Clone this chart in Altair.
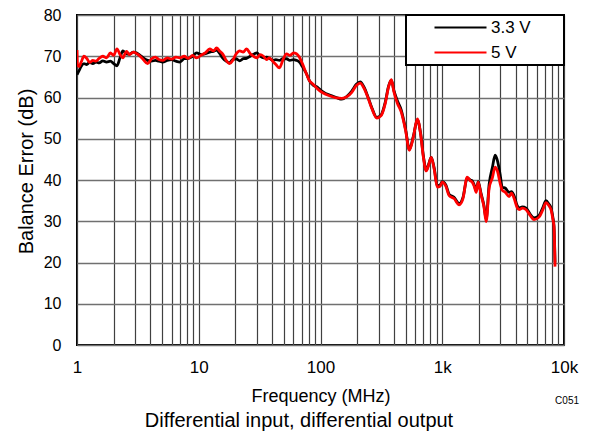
import altair as alt
import pandas as pd

# Frequency (MHz)
freq = [
    1, 1.01, 1.04, 1.08, 1.14, 1.2, 1.27, 1.35, 1.43, 1.52,
    1.63, 1.75, 1.88, 2.0, 2.13, 2.25, 2.38, 2.55, 2.7, 2.9,
    3.1, 3.3, 3.5, 3.8, 4.1, 4.4, 4.7, 5.06, 5.5, 6.0,
    6.5, 7.0, 7.6, 8.2, 8.9, 9.6, 10.5, 11.3, 12.3, 13.2,
    14.0, 14.9, 15.7, 16.8, 17.9, 19.0, 20.2, 21.7, 23.2, 24.7,
    26.5, 28.2, 30, 32, 34, 36, 38, 40.5, 43, 46,
    49, 52.6, 56, 60, 63.5, 67, 71, 76, 81, 87,
    93, 100, 110, 122, 135, 150, 165, 180, 197, 212,
    228, 245, 265, 290, 315, 340, 362, 382, 400, 428,
    460, 500, 537, 580, 624, 665, 700, 739, 780, 812,
    860, 910, 960, 1000, 1070, 1140, 1250, 1377, 1480, 1602,
    1700, 1761, 1830, 1900, 1972, 2080, 2200, 2295, 2428, 2580,
    2719, 2850, 3000, 3102, 3300, 3540, 3700, 3890, 4100, 4277,
    4550, 4885, 5250, 5680, 6240, 6700, 7115, 7500, 7822, 8100,
    8275, 8440,
]

# Balance error (dB), 3.3 V supply
v33 = [
    65.5, 65.8, 66.5, 67.5, 68.2, 68, 68.5, 68.2, 68.6, 68.4,
    68.9, 68.6, 68.8, 68.2, 67.7, 69.5, 71.3, 70.6, 70.5, 71,
    70.8, 70.2, 69.6, 69, 68.8, 69, 68.8, 68.6, 69, 69.2,
    68.8, 68.6, 69.4, 69.5, 70, 70.8, 70.4, 70.6, 71, 71.2,
    71.5, 70.6, 69.6, 68.8, 68.4, 69.2, 69.4, 68.9, 69.4, 69.5,
    70, 70.5, 70.8, 70, 69.6, 69.8, 69.5, 69, 69.2, 69,
    69.4, 69.4, 69, 69.2, 69, 68.6, 67.5, 66, 64.1, 63,
    62.6, 61.8, 61, 60.5, 60, 59.6, 60.3, 61.5, 63.2, 63.8,
    62.5, 60.2, 57.4, 55.2, 55.8, 58.8, 62.7, 64.2, 61.8, 59.2,
    57, 52.3, 47.4, 50.7, 54.6, 51.2, 45.8, 42.4, 44.2, 45.5,
    42.8, 38.6, 38.8, 39.6, 38.8, 36.5, 35.8, 34.3, 35.8, 40.5,
    40, 39.8, 38.8, 37.4, 39.6, 36.8, 33.8, 30.5, 39, 43,
    46, 44.5, 41, 38.3, 38, 37, 37.2, 36.2, 34, 33.2,
    33.5, 33.2, 31.8, 30.8, 31.4, 33.3, 35, 34.2, 33.2, 31,
    28.8, 20,
]

# Balance error (dB), 5 V supply
v5 = [
    71.5, 68, 67.5, 68.5, 70, 69.5, 68.5, 69, 68.8, 69.5,
    70, 69.6, 70.8, 70.2, 71.8, 70.5, 69.6, 71.2, 70.4, 71,
    70.6, 70, 69.2, 68.2, 69.4, 69.8, 69.2, 69, 69.6, 69.3,
    69.8, 69.6, 70, 69.5, 70.2, 69.6, 70.3, 70.8, 71.8, 71.3,
    72, 71.2, 70.6, 69, 68.2, 69, 70.5, 71.3, 71, 71.8,
    70.6, 70, 69.6, 70.4, 70, 69.2, 69.6, 68.8, 68, 67.2,
    69, 70.6, 70.2, 70.8, 70.6, 69.8, 68.2, 66, 64.1, 63.2,
    62.3, 61.5, 60.8, 60.3, 59.9, 59.8, 60.2, 61.2, 62.9, 63.5,
    62.2, 60, 57.2, 55, 55.6, 58.5, 62.5, 64.3, 61.5, 58.6,
    56.5, 52, 47.2, 50.5, 54.8, 51, 45.5, 42.2, 44, 45.5,
    42.5, 38.3, 38.5, 39.5, 38.5, 36.2, 35.5, 34, 35.5, 40.7,
    39.8, 39.5, 38.5, 37, 39.5, 36.5, 33.5, 29.9, 38, 40.5,
    43.1, 42, 39, 37.6, 37, 36, 36.8, 35.6, 33.5, 32.8,
    33.2, 32.8, 31.5, 30.4, 31, 32.8, 34.5, 33.8, 32.8, 30.5,
    28.7, 19,
]

series = ["3.3 V", "5 V"]
colors = ["black", "#ff0000"]
x_ticks = [m * 10 ** d for d in range(4) for m in range(1, 10)] + [10000]
y_ticks = list(range(0, 81, 10))
caption = "Differential input, differential output"
code = "C051"

n = min(len(freq), len(v33), len(v5))
df = pd.DataFrame({
    "f": freq[:n] + freq[:n],
    "v": v33[:n] + v5[:n],
    "s": [series[0]] * n + [series[1]] * n,
})

FONT = "Liberation Sans"
PAD = "\u00a0" * 6 + "\u200b"

lines = alt.Chart(df).mark_line(strokeWidth=2.8, clip=True, interpolate="monotone").encode(
    x=alt.X("f:Q",
            scale=alt.Scale(type="log", domain=[1, 10000], nice=False),
            axis=alt.Axis(values=x_ticks,
                          labelExpr="datum.value == 1 ? '1' : datum.value == 10 ? '10' : datum.value == 100 ? '100' : datum.value == 1000 ? '1k' : datum.value == 10000 ? '10k' : ''",
                          grid=True, gridColor="#404040", gridWidth=1.2,
                          ticks=False, domain=False,
                          labelPadding=14, labelFontSize=17, labelColor="black",
                          labelFlush=False, labelOverlap=False,
                          title="Frequency (MHz)", titleFontSize=18,
                          titleFontWeight="normal", titleColor="black",
                          titleY=51, titleBaseline="middle")),
    y=alt.Y("v:Q",
            scale=alt.Scale(domain=[0, 80], nice=False),
            axis=alt.Axis(values=y_ticks, grid=True, gridColor="#707070",
                          gridWidth=1.5, ticks=False, domain=False,
                          labelPadding=16, labelFontSize=16, labelColor="black",
                          title="Balance Error (dB)", titleFontSize=20,
                          titleFontWeight="normal", titleColor="black",
                          titleX=-51, titleY=156, titleAlign="center",
                          titleBaseline="middle")),
    color=alt.Color("s:N",
                    scale=alt.Scale(domain=series, range=colors),
                    legend=alt.Legend(title=None, orient="top-right", offset=0,
                                      padding=4, symbolType="M-5.2,0H5.2",
                                      symbolSize=100, symbolStrokeWidth=2,
                                      symbolOffset=42, labelOffset=22,
                                      labelFontSize=17, labelColor="black",
                                      rowPadding=7, fillColor="white",
                                      strokeColor="black",
                                      labelExpr="datum.label + '" + PAD + "'")),
)

note = alt.Chart(pd.DataFrame({"t": [code]})).mark_text(
    align="right", baseline="middle", fontSize=10, color="black"
).encode(x=alt.value(502), y=alt.value(386), text="t:N")

cap = alt.Chart(pd.DataFrame({"t": [caption]})).mark_text(
    align="center", baseline="middle", fontSize=20, color="black"
).encode(x=alt.value(222), y=alt.value(406), text="t:N")

chart = alt.layer(lines, note, cap).properties(
    width=487, height=330,
    autosize=alt.AutoSizeParams(type="none"),
    padding={"left": 69, "top": 7, "right": 17, "bottom": 89},
).configure(font=FONT, background="white").configure_view(
    stroke="black", strokeWidth=2
).configure_legend(strokeWidth=2)

chart.save("out.html", embed_options={"renderer": "svg", "actions": False})
